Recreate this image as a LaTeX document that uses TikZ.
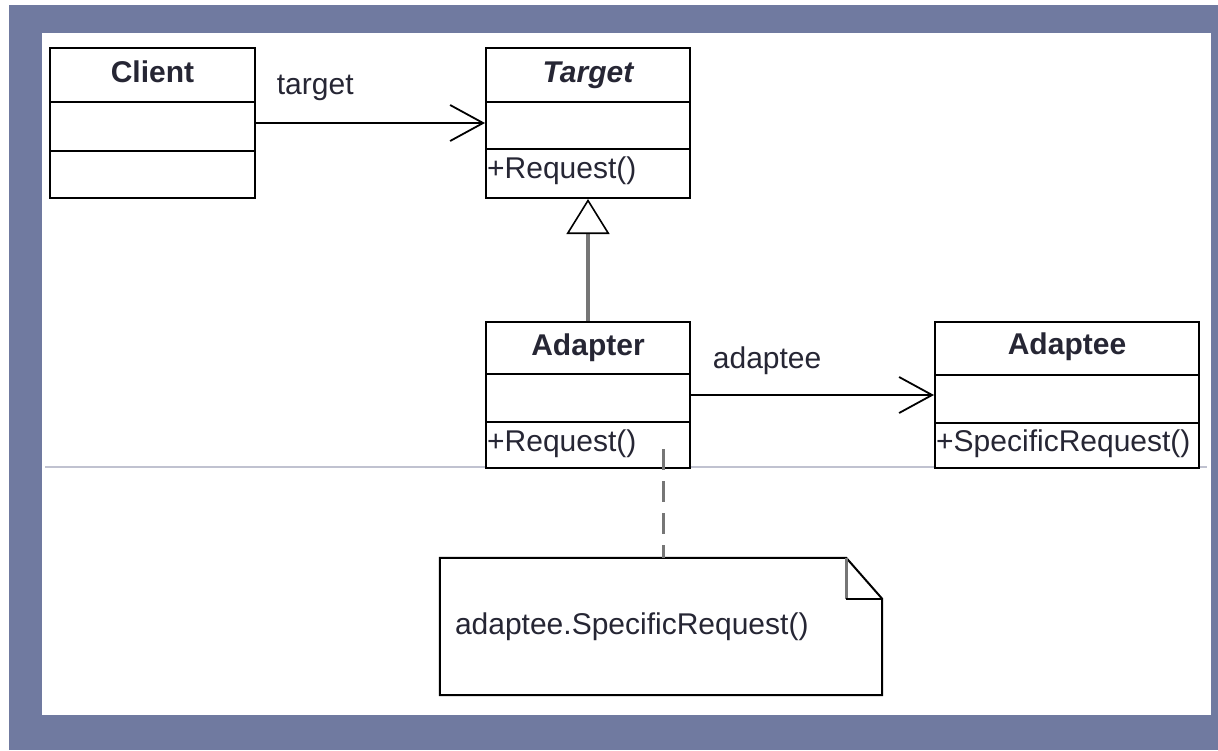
\documentclass[tikz,border=0pt]{standalone}
\usepackage{fontspec}
\setmainfont{Liberation Sans}
\usetikzlibrary{arrows.meta}
\usetikzlibrary{positioning}
\definecolor{frameblue}{RGB}{112,122,160}
\definecolor{rulegray}{RGB}{192,194,208}
\definecolor{inkdark}{RGB}{38,38,52}
\definecolor{edgegray}{RGB}{118,118,118}
\tikzset{
  classbox/.style={draw=black, line width=2pt, fill=white, inner sep=0pt},
  classline/.style={draw=black, line width=2pt},
  classname/.style={anchor=base, inner sep=0pt, text=inkdark,
    font=\fontsize{30}{36}\selectfont\bfseries},
  operation/.style={anchor=base west, inner sep=0pt, text=inkdark},
  assoc/.style={draw=black, line width=1.8pt,
    -{Straight Barb[length=33pt,width=36pt]}},
  inherit/.style={draw=edgegray, line width=4pt,
    -{Triangle[open,length=35pt,width=43pt,line width=1.6pt,color=black]}},
  noteline/.style={draw=edgegray, line width=3pt,
    dash pattern=on 21pt off 11pt},
}
\begin{document}
\begin{tikzpicture}[x=1pt,y=-1pt, font=\fontsize{30}{36}\selectfont]
  \newcommand{\compartments}[3]{%
    \draw[classline] ([yshift=-#2]#1.north west) -- ([yshift=-#2]#1.north east);
    \draw[classline] ([yshift=-#3]#1.north west) -- ([yshift=-#3]#1.north east);}
  \useasboundingbox (0,0) rectangle (1218,750);
  \fill[white] (0,0) rectangle (1218,750);
  \fill[frameblue] (9,5) rectangle (1218,750);% frame
  \fill[white] (42,33) rectangle (1211,715);
  \draw[rulegray, line width=1.5pt] (45,467) -- (1207,467);
  % classes
  \node[classbox, minimum width=205pt, minimum height=150pt] (client) at (152.5,123) {};
  \node[classbox, minimum width=204pt, minimum height=150pt] (target) at (588,123) {};
  \node[classbox, minimum width=204pt, minimum height=146pt] (adapter) at (588,395) {};
  \node[classbox, minimum width=264pt, minimum height=146pt] (adaptee) at (1067,395) {};
  \compartments{client}{55pt}{104pt}
  \compartments{target}{55pt}{102pt}
  \compartments{adapter}{53pt}{101pt}
  \compartments{adaptee}{54pt}{102pt}
  \node[classname] at ([yshift=-35pt]client.north) {Client};
  \node[classname, font=\fontsize{30}{36}\selectfont\bfseries\itshape]
    at ([yshift=-35pt]target.north) {Target};
  \node[classname] at ([yshift=-34pt]adapter.north) {Adapter};
  \node[classname] at ([yshift=-33pt]adaptee.north) {Adaptee};
  \node[operation] at ([xshift=2pt,yshift=-131pt]target.north west) {+Request()};
  \node[operation] at ([xshift=2pt,yshift=-130pt]adapter.north west) {+Request()};
  \node[operation] at ([xshift=2pt,yshift=-130pt]adaptee.north west) {+SpecificRequest()};
  % note
  \node[inner sep=0pt, minimum width=442pt, minimum height=137pt] (note) at (661,626.5) {};
  \draw[classline, fill=white] (note.north west) -- ([xshift=-36pt]note.north east)
    -- ([yshift=-41pt]note.north east) -- (note.south east) -- (note.south west) -- cycle;
  \draw[edgegray, line width=3pt] ([xshift=-36pt]note.north east)
    -- ([xshift=-36pt,yshift=-41pt]note.north east);
  \draw[classline] ([xshift=-36pt,yshift=-41pt]note.north east)
    -- ([yshift=-41pt]note.north east);
  \node[operation] at ([xshift=15pt,yshift=-77pt]note.north west) {adaptee.SpecificRequest()};
  % connectors
  \draw[assoc] (client) -- (target)
    node[pos=0, operation, xshift=20pt, yshift=29pt] {target};
  \draw[assoc] (adapter) -- (adaptee)
    node[pos=0, operation, xshift=21pt, yshift=27pt] {adaptee};
  \draw[inherit] (adapter.north) -- (target.south);
  \coordinate (reqhook) at (663,449);
  \draw[noteline] (reqhook) -- (reqhook |- note.north);
\end{tikzpicture}
\end{document}
